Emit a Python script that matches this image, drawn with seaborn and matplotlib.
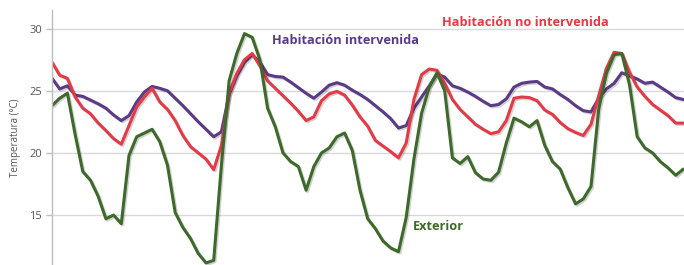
import numpy as np
import pandas as pd
import matplotlib
matplotlib.use("Agg")
import matplotlib.pyplot as plt
import matplotlib.patheffects as pe
import seaborn as sns

# =========================
# datos (lecturas horarias aproximadas del gráfico)
# =========================
horas = list(range(83))

interv = [26.0, 25.15, 25.4, 24.65, 24.55, 24.25, 23.95, 23.6, 23.05, 22.6,
          23.0, 24.1, 24.9, 25.35, 25.2, 25.0, 24.4, 23.8, 23.15, 22.5,
          21.9, 21.3, 21.7, 24.7, 26.2, 27.3, 27.9, 27.3, 26.3, 26.15,
          26.1, 25.7, 25.25, 24.8, 24.4, 24.9, 25.45, 25.65, 25.45, 25.05,
          24.7, 24.3, 23.8, 23.3, 22.75, 22.0, 22.2, 23.6, 24.5, 25.4,
          26.35, 26.1, 25.4, 25.2, 24.9, 24.55, 24.15, 23.8, 23.9, 24.35,
          25.3, 25.6, 25.7, 25.75, 25.3, 25.15, 24.7, 24.3, 23.8, 23.4,
          23.3, 24.4, 25.15, 25.6, 26.45, 26.2, 25.95, 25.6, 25.7, 25.3,
          24.9, 24.45, 24.3]

no_interv = [27.3, 26.25, 26.0, 24.5, 23.6, 23.15, 22.4, 21.8, 21.15, 20.7,
             22.2, 23.7, 24.5, 25.2, 24.1, 23.5, 22.6, 21.4, 20.5, 20.0,
             19.5, 18.65, 20.6, 24.8, 26.4, 27.5, 28.0, 27.0, 25.8, 25.2,
             24.6, 24.0, 23.35, 22.6, 22.9, 24.2, 24.75, 24.95, 24.65, 23.85,
             22.9, 22.15, 21.0, 20.55, 20.1, 19.6, 20.8, 24.3, 26.3, 26.75,
             26.65, 25.6, 24.3, 23.5, 22.9, 22.3, 21.9, 21.55, 21.7, 22.6,
             24.4, 24.5, 24.45, 24.2, 23.45, 23.1, 22.45, 21.95, 21.65, 21.4,
             22.3, 24.6, 26.8, 28.1, 28.0, 26.5, 25.3, 24.55, 23.9, 23.45,
             23.0, 22.4, 22.4]

exterior = [23.8, 24.4, 24.8, 21.5, 18.5, 17.8, 16.5, 14.7, 15.0, 14.3,
            19.8, 21.3, 21.6, 21.9, 20.9, 19.0, 15.2, 14.0, 13.1, 11.9,
            11.15, 11.35, 19.0, 25.8, 28.0, 29.6, 29.3, 27.5, 23.6, 22.1,
            20.0, 19.3, 18.9, 17.0, 18.9, 20.0, 20.4, 21.3, 21.6, 20.2,
            17.0, 14.7, 13.9, 12.9, 12.35, 12.05, 14.8, 19.5, 23.2, 25.3,
            26.45, 25.0, 19.6, 19.15, 19.7, 18.4, 17.9, 17.8, 18.45, 20.8,
            22.8, 22.5, 22.1, 22.6, 20.6, 19.3, 18.7, 17.2, 15.9, 16.3,
            17.3, 23.5, 26.4, 27.9, 28.0, 25.5, 21.3, 20.4, 20.0, 19.3,
            18.8, 18.2, 18.7]

y_ticks = [15, 20, 25, 30]

col_interv = "#5B3A86"
col_no = "#E23B47"
col_ext = "#3D6A2B"

df = pd.DataFrame({
    "hora": horas * 3,
    "temp": interv + no_interv + exterior,
    "serie": ["interv"] * 83 + ["no"] * 83 + ["ext"] * 83,
})

sns.set_style("white")
plt.rcParams["font.family"] = ["Open Sans", "DejaVu Sans"]

fig = plt.figure(figsize=(6.84, 2.65), dpi=100)
ax = fig.add_axes([52 / 684, 0, 1 - 52 / 684, 1 - 10 / 265])

sombra = [pe.SimpleLineShadow(offset=(1.0, -1.0), alpha=0.18, shadow_color="black"), pe.Normal()]

sns.lineplot(data=df, x="hora", y="temp", hue="serie",
             hue_order=["interv", "no", "ext"],
             palette={"interv": col_interv, "no": col_no, "ext": col_ext},
             linewidth=2.2, legend=False, ax=ax)
for ln in ax.get_lines():
    ln.set_path_effects(sombra)
    ln.set_solid_joinstyle("round")

ax.set_xlim(0, 82.08)
ax.set_ylim(10.98, 31.5)
ax.set_yticks(y_ticks)
ax.set_xticks([])
ax.grid(axis="y", color="#d9d9d9", linewidth=1.0)
ax.set_axisbelow(True)

for s in ["top", "right", "bottom"]:
    ax.spines[s].set_visible(False)
ax.spines["left"].set_color("#bdbdbd")
ax.spines["left"].set_linewidth(1.0)
ax.tick_params(axis="y", left=True, length=4, width=1, color="#bdbdbd",
               labelsize=8, labelcolor="#555555", pad=3)
ax.set_xlabel("")
ax.set_ylabel("Temperatura (°C)", fontsize=7, color="#555555", labelpad=6)

ax.text(28.6, 29.05, "Habitación intervenida", color=col_interv, fontsize=9.2,
        fontweight="bold", ha="left", va="center")
ax.text(50.6, 30.5, "Habitación no intervenida", color=col_no, fontsize=9.2,
        fontweight="bold", ha="left", va="center")
ax.text(46.9, 14.1, "Exterior", color=col_ext, fontsize=9.2,
        fontweight="bold", ha="left", va="center")

fig.savefig("out.png", dpi=100)
